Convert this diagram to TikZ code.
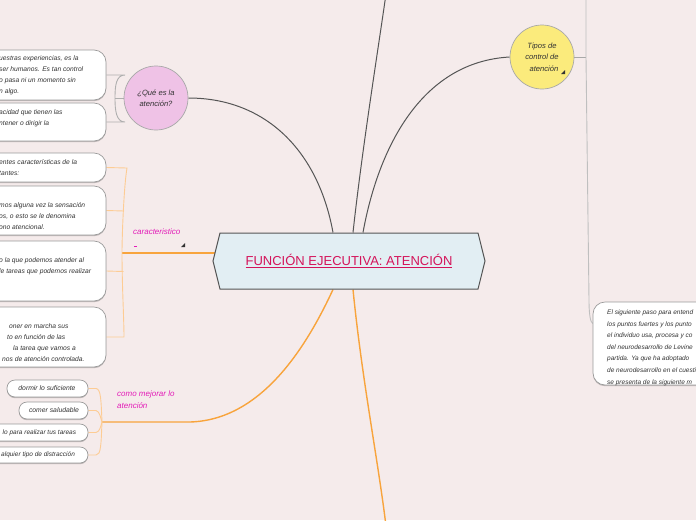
\documentclass[tikz,border=0pt]{standalone}
\usepackage{fontspec}
\setmainfont{Liberation Sans}
\usetikzlibrary{shapes.symbols,shadows}
\definecolor{bgc}{HTML}{F5EBEB}
\definecolor{hexf}{HTML}{E2EEF3}
\definecolor{hexb}{HTML}{555555}
\definecolor{titlec}{HTML}{D4145A}
\definecolor{magc}{HTML}{E31CB8}
\definecolor{pinkf}{HTML}{EFC2E6}
\definecolor{yelf}{HTML}{FBEB7C}
\definecolor{circb}{HTML}{A8A8A8}
\definecolor{boxgray}{HTML}{9A9A9A}
\definecolor{dkline}{HTML}{555555}
\definecolor{orm}{HTML}{F8A43C}
\definecolor{orl}{HTML}{FDCC94}
\definecolor{grline}{HTML}{AFAFAF}
\definecolor{txt}{HTML}{333333}
\pgfdeclarelayer{bg}
\pgfsetlayers{bg,main}
\begin{document}
\begin{tikzpicture}[x=1pt,y=-1pt,
  dk/.style={draw=dkline, line width=1pt},
  ormain/.style={draw=orm, line width=1.4pt},
  orlight/.style={draw=orl, line width=0.9pt},
  grl/.style={draw=grline, line width=0.9pt},
  leaf/.style={draw=boxgray, fill=white, line width=0.7pt, inner sep=0pt,
    drop shadow={shadow xshift=0pt, shadow yshift=-1.2pt, fill=black, opacity=0.22}},
  bigleaf/.style={leaf, rounded corners=12pt},
  smallleaf/.style={leaf, rounded corners=8pt},
  lt/.style={font=\fontsize{6.7}{11.2}\selectfont\itshape, text=txt, align=left, inner sep=0pt, anchor=north west},
  st/.style={font=\fontsize{6.8}{8}\selectfont\itshape, text=txt, inner sep=0pt},
  circ/.style={circle, draw=circb, line width=0.7pt, minimum size=64pt, inner sep=0pt,
    font=\fontsize{7.6}{11.5}\selectfont\itshape, text=txt, align=center},
  maglabel/.style={font=\fontsize{8}{12}\selectfont\itshape, text=magc, align=left, inner sep=0pt, anchor=north west},
  hexnode/.style={shape=signal, signal to=west and east, signal pointer angle=152,
    draw=hexb, fill=hexf, line width=1pt, minimum width=272pt, minimum height=56pt, inner sep=0pt,
    font=\fontsize{13}{15}\selectfont, text=titlec}
]
\begin{pgfonlayer}{bg}
\fill[bgc] (0,0) rectangle (696,520);
\end{pgfonlayer}
\useasboundingbox (0,0) rectangle (696,520);

% central node
\node[hexnode] (title) at (349,261) {\underline{FUNCIÓN EJECUTIVA: ATENCIÓN}};
\coordinate (tA) at ([xshift=-16pt]title.north);
\coordinate (tB) at ([xshift=4pt]title.north);
\coordinate (tC) at ([xshift=14pt]title.north);
\coordinate (tD) at ([xshift=-16pt]title.south);
\coordinate (tE) at ([xshift=4pt]title.south);
\coordinate (tW) at (215,253);

% circles
\node[circ, fill=pinkf] (pink) at (156,98) {¿Qué es la\\atención?};
\node[circ, fill=yelf] (yel) at (542,57) {Tipos de\\control de\\\hspace*{4pt}atención};
\fill[txt] (561,74) -- (565,74) -- (565,70) -- cycle;

% top-left boxes
\node[bigleaf, minimum width=150pt, minimum height=50pt] (qa1) at (31,75) {};
\node[bigleaf, minimum width=150pt, minimum height=38pt] (qa2) at (31,122) {};
\node[lt] (qa1t) at (-1,55) {uestras experiencias, es la\\ser humanos. Es tan control\\o pasa ni un momento sin\\n algo.};
\node[lt] (qa2t) at (-1,109) {acidad que tienen las\\ntener o dirigir la};

% characteristic boxes
\node[bigleaf, minimum width=150pt, minimum height=29pt] (c1) at (31,167.5) {};
\node[bigleaf, minimum width=150pt, minimum height=49pt] (c2) at (31,210.5) {};
\node[bigleaf, minimum width=150pt, minimum height=60pt] (c3) at (31,271) {};
\node[bigleaf, minimum width=150pt, minimum height=60pt] (c4) at (31,337) {};
\node[lt] (c1t) at (-1,159) {entes características de la\\tantes:};
\node[lt] (c2t) at (-1,202) {mos alguna vez la sensación\\os, o esto se le denomina\\ono atencional.};
\node[lt] (c3t) at (-1,257) {o la que podemos atender al\\le tareas que podemos realizar};
\node[lt] (c4t) at (-1,323) {\hspace*{10pt}oner en marcha sus\\\hspace*{8pt}to en función de las\\\hspace*{14pt}la tarea que vamos a\\\hspace*{3pt}nos de atención controlada.};
\node[maglabel] (carl) at (133,228.5) {caracteristico};
\fill[magc] (134,245.5) rectangle (136.5,246.5);
\fill[txt] (181,247) -- (185,247) -- (185,243) -- cycle;

% como mejorar boxes
\node[smallleaf, minimum width=81pt, minimum height=17pt] (m1) at (47.5,388.5) {};
\node[smallleaf, minimum width=69pt, minimum height=17pt] (m2) at (53.5,410.5) {};
\node[smallleaf, minimum width=130pt, minimum height=17pt] (m3) at (23,432.5) {};
\node[smallleaf, minimum width=130pt, minimum height=16pt] (m4) at (23,455) {};
\node[st] (m1t) at (47,388.5) {dormir lo suficiente};
\node[st] (m2t) at (54,410.5) {comer saludable};
\node[st, font=\fontsize{6.5}{8}\selectfont\itshape, anchor=west] (m3t) at (2.5,432.5) {lo para realizar tus tareas};
\node[st, font=\fontsize{6.5}{8}\selectfont\itshape, anchor=west] (m4t) at (1,455) {alquier tipo de distracción};
\node[maglabel] (mejl) at (117,390.5) {como mejorar lo\\atención};

% right box
\node[bigleaf, minimum width=170pt, minimum height=83pt] (r1) at (678,343.5) {};
\node[lt, font=\fontsize{6.5}{11.6}\selectfont\itshape] (r1t) at (607,309.5) {El siguiente paso para entend\\los puntos fuertes y los punto\\el individuo usa, procesa y co\\del neurodesarrollo de Levine\\partida. Ya que ha adoptado\\de neurodesarrollo en el cuesti\\se presenta de la siguiente m};

\coordinate (topend) at (386,-6);
\coordinate (botend) at (386,526);
\coordinate (rtop) at (586,-6);
\coordinate (rb) at (586,57);
\coordinate (rlow) at (589,300);
\coordinate (qj) at (115,98);
\coordinate (cj) at (122,253);
\coordinate (mj) at (102,422);
\coordinate (mk) at (190,422);

\begin{pgfonlayer}{bg}
% dark connectors
\draw[dk] (tB) .. controls (362,150) and (378,50) .. (topend);
\draw[dk] (tC) .. controls (378,150) and (420,62) .. (yel.west);
\draw[dk] (pink.east) .. controls (265,98) and (318,150) .. (tA);
% pink bracket
\draw[grl] (pink.west) -- (qj);
\draw[grl] (qa1.east) -- (125,75) .. controls (116,75) and (115,86) .. (qj)
  .. controls (115,110) and (116,122) .. (125,122) -- (qa2.east);
% right bracket
\draw[grl, draw=circb] (yel.east) -- (rb);
\draw[grl, draw=grline!80] (rtop) -- (rb) -- (rlow) .. controls (589,312) and (590,322) .. ([yshift=20pt]r1.west);
% caracteristico
\draw[ormain, line width=1.6pt] (cj) -- (tW);
\draw[orlight] (c1.east) -- (127,168) .. controls (124,185) and (122,235) .. (cj)
  .. controls (122,285) and (124,320) .. (124,337) -- (c4.east);
\draw[orlight] (c2.east) -- (124,211);
\draw[orlight] (c3.east) -- (123.5,271.5);
% como mejorar
\draw[ormain] (tD) .. controls (305,350) and (260,420) .. (mk) -- (mj);
\draw[orlight] (m1.east) -- (96,388.5) .. controls (101,389) and (101,400) .. (mj)
  .. controls (101,445) and (101,455) .. (96,455) -- (m4.east);
\draw[orlight] (m2.east) -- (96,410.5) .. controls (100,411) and (101,420) .. (mj);
\draw[orlight] (m3.east) -- (96,432.5) .. controls (100,432) and (101,425) .. (mj);
% bottom
\draw[ormain] (tE) .. controls (362,380) and (378,460) .. (botend);
\end{pgfonlayer}
\end{tikzpicture}
\end{document}
